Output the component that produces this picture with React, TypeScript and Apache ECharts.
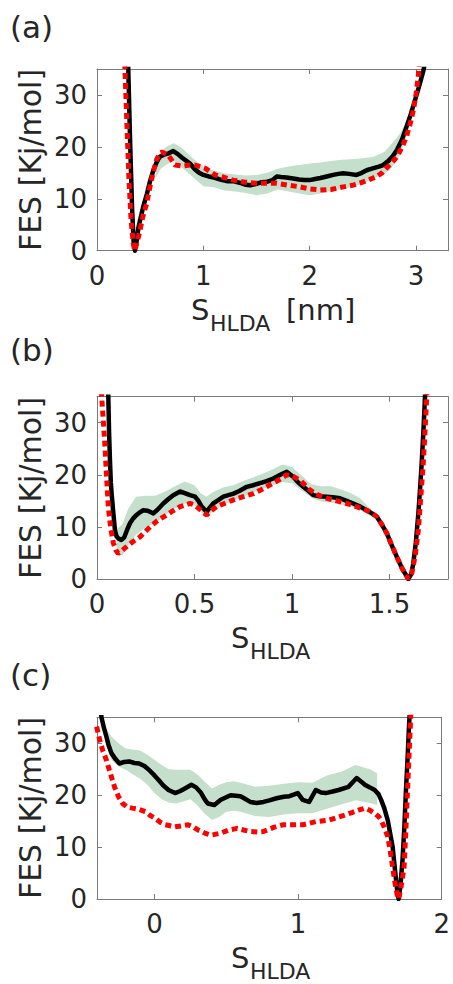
import React, { useEffect, useRef } from 'react';
import * as echarts from 'echarts';

// ---------- Panel (a) ----------
const aBlackX = [0.285, 0.294, 0.31, 0.33, 0.345, 0.357, 0.37, 0.39, 0.435, 0.47, 0.5, 0.53, 0.56, 0.59, 0.63, 0.67, 0.717, 0.76, 0.8, 0.84, 0.874, 0.92, 0.96, 1.0, 1.05, 1.1, 1.16, 1.22, 1.28, 1.34, 1.4, 1.44, 1.5, 1.55, 1.6, 1.65, 1.69, 1.73, 1.78, 1.845, 1.9, 1.95, 2.0, 2.05, 2.1, 2.16, 2.22, 2.27, 2.315, 2.37, 2.44, 2.49, 2.535, 2.6, 2.65, 2.69, 2.74, 2.78, 2.82, 2.87, 2.91, 2.95, 2.99, 3.03, 3.07, 3.09];
const aBlackY = [40, 35, 22, 8, 1.5, 0, 1.5, 4.5, 8.5, 11, 13.5, 15.5, 17, 18.1, 18.5, 18.7, 19.2, 18.6, 17.9, 17.3, 16.8, 15.7, 15, 14.6, 14.3, 14.1, 13.7, 13.4, 13.4, 13.1, 12.7, 12.6, 12.9, 13.2, 13.3, 13.6, 14.3, 14.2, 14.1, 13.9, 13.7, 13.6, 13.6, 13.8, 14.0, 14.3, 14.6, 14.8, 14.9, 14.8, 14.6, 15.0, 15.5, 15.9, 16.2, 16.5, 17.3, 18.2, 19.4, 21.5, 23.9, 26.3, 29, 31.8, 34.8, 37];
const aRedX = [0.255, 0.263, 0.28, 0.3, 0.32, 0.34, 0.355, 0.375, 0.4, 0.43, 0.467, 0.5, 0.53, 0.56, 0.59, 0.61, 0.67, 0.733, 0.81, 0.87, 0.92, 1.015, 1.11, 1.18, 1.28, 1.39, 1.5, 1.6, 1.69, 1.8, 1.91, 2.0, 2.1, 2.2, 2.315, 2.4, 2.47, 2.55, 2.63, 2.68, 2.72, 2.77, 2.82, 2.87, 2.91, 2.945, 2.975, 3.0, 3.02, 3.03];
const aRedY = [40, 35, 25, 14, 6, 1.5, 0, 1.5, 3.5, 6.5, 9.1, 12.5, 15.3, 17.5, 18.8, 19.0, 18.4, 16.5, 16.3, 16.5, 16.5, 15.9, 14.6, 14.2, 13.6, 13.2, 13.0, 13.0, 13.0, 12.6, 12.3, 11.9, 11.7, 11.8, 12.3, 12.6, 13.0, 13.6, 14.3, 15.0, 15.9, 16.9, 18.1, 20.0, 22, 24.5, 27.1, 30.2, 33.5, 36];
const aBandX = [0.55, 0.6, 0.65, 0.72, 0.8, 0.9, 1.0, 1.1, 1.2, 1.3, 1.4, 1.5, 1.6, 1.7, 1.8, 1.9, 2.0, 2.1, 2.2, 2.3, 2.4, 2.5, 2.6, 2.7, 2.75, 2.8, 2.85, 2.9, 2.95];
const aBandUp = [16.5, 19.0, 20.0, 20.7, 19.8, 17.8, 16.2, 15.4, 14.9, 14.7, 14.5, 14.6, 15.0, 15.8, 16.2, 16.5, 16.8, 17.0, 17.3, 17.5, 17.6, 17.8, 18.1, 19.0, 20.1, 21.3, 22.6, 24.5, 27];
const aBandLo = [14.0, 15.8, 16.5, 17.4, 16.0, 14.2, 12.4, 12.2, 11.6, 11.4, 11.1, 10.7, 11.0, 11.8, 11.4, 11.0, 10.7, 11.0, 11.5, 11.9, 12.3, 12.9, 13.9, 14.8, 15.5, 16.8, 18.5, 21.5, 25];

// ---------- Panel (b) ----------
const bBlackX = [0.052, 0.058, 0.062, 0.067, 0.071, 0.075, 0.083, 0.092, 0.1, 0.109, 0.125, 0.14, 0.155, 0.169, 0.185, 0.203, 0.22, 0.237, 0.26, 0.289, 0.31, 0.34, 0.365, 0.391, 0.426, 0.45, 0.477, 0.503, 0.52, 0.537, 0.563, 0.58, 0.596, 0.62, 0.648, 0.7, 0.73, 0.768, 0.8, 0.836, 0.87, 0.904, 0.94, 0.973, 1.007, 1.03, 1.058, 1.085, 1.109, 1.14, 1.178, 1.21, 1.246, 1.28, 1.314, 1.35, 1.383, 1.41, 1.434, 1.46, 1.486, 1.51, 1.537, 1.565, 1.597, 1.612, 1.622, 1.635, 1.648, 1.657, 1.665, 1.674, 1.682, 1.687];
const bBlackY = [40, 35, 28, 22.2, 18.5, 16.4, 13, 9.4, 8.2, 7.8, 7.5, 8.0, 9.5, 10.7, 11.6, 12.3, 12.8, 13.2, 13.1, 12.6, 13.3, 14.5, 15.3, 16.1, 16.8, 16.5, 16.1, 15.8, 15.0, 13.9, 12.9, 13.8, 14.5, 15.1, 15.8, 16.4, 16.9, 17.7, 18.0, 18.4, 18.8, 19.3, 20.0, 20.6, 19.6, 18.6, 17.7, 16.9, 16.1, 15.9, 15.8, 15.7, 15.5, 15.0, 14.5, 13.9, 13.2, 12.6, 12.0, 10.5, 8.8, 6.6, 4.3, 2.0, 0, 1.0, 3.0, 7, 12.6, 17.5, 22.2, 28.5, 35, 40];
const bRedX = [0.02, 0.024, 0.033, 0.041, 0.05, 0.058, 0.07, 0.084, 0.097, 0.109, 0.13, 0.152, 0.185, 0.221, 0.245, 0.272, 0.31, 0.357, 0.39, 0.426, 0.477, 0.5, 0.52, 0.545, 0.563, 0.585, 0.614, 0.66, 0.7, 0.75, 0.802, 0.85, 0.904, 0.94, 0.973, 1.0, 1.041, 1.065, 1.092, 1.13, 1.178, 1.23, 1.28, 1.33, 1.383, 1.41, 1.434, 1.46, 1.486, 1.51, 1.537, 1.565, 1.597, 1.615, 1.632, 1.648, 1.66, 1.673, 1.683, 1.691, 1.695];
const bRedY = [40, 35, 30, 25.4, 19, 13.9, 9.8, 6.9, 5.5, 4.9, 5.5, 6.2, 7.2, 8.1, 9.0, 10.0, 11.2, 12.3, 13.1, 13.9, 14.5, 14.2, 13.6, 12.8, 12.3, 13.1, 13.9, 14.6, 15.2, 15.8, 16.4, 17.3, 18.4, 19.2, 20.0, 19.8, 19.0, 18.1, 17.1, 16.2, 15.5, 15.0, 14.5, 13.9, 13.2, 12.6, 12.0, 10.5, 8.8, 6.6, 4.3, 2.0, 0, 1.2, 4.5, 9.4, 15.5, 22.2, 29, 35, 40];
const bBandX = [0.1, 0.13, 0.16, 0.2, 0.25, 0.3, 0.35, 0.4, 0.45, 0.5, 0.53, 0.56, 0.6, 0.65, 0.7, 0.75, 0.8, 0.85, 0.9, 0.95, 1.0, 1.05, 1.1, 1.15, 1.2, 1.25, 1.3, 1.35, 1.4, 1.43];
const bBandUp = [9.5, 10.5, 13.5, 15.8, 16.0, 16.0, 16.8, 17.8, 18.7, 18.0, 16.5, 15.8, 16.8, 17.6, 18.0, 18.8, 19.5, 20.2, 21.0, 22.0, 21.5, 19.8, 18.2, 17.8, 17.8, 17.2, 16.5, 15.5, 13.5, 12.0];
const bBandLo = [5.0, 4.5, 6.5, 8.5, 10.0, 10.7, 12.3, 13.6, 14.5, 14.2, 13.0, 11.8, 13.2, 14.3, 15.0, 15.8, 16.6, 17.3, 18.0, 18.6, 18.4, 17.0, 15.6, 14.9, 14.7, 14.3, 13.9, 13.2, 12.2, 11.8];

// ---------- Panel (c) ----------
const cBlackX = [-0.38, -0.369, -0.352, -0.335, -0.318, -0.3, -0.27, -0.244, -0.21, -0.176, -0.14, -0.107, -0.07, -0.039, 0.0, 0.029, 0.06, 0.098, 0.143, 0.18, 0.212, 0.257, 0.29, 0.325, 0.35, 0.371, 0.417, 0.462, 0.53, 0.599, 0.63, 0.667, 0.71, 0.759, 0.8, 0.85, 0.9, 0.94, 0.998, 1.032, 1.077, 1.123, 1.16, 1.191, 1.24, 1.282, 1.351, 1.38, 1.408, 1.44, 1.465, 1.5, 1.533, 1.56, 1.578, 1.6, 1.624, 1.64, 1.658, 1.675, 1.692, 1.7, 1.712, 1.727, 1.74, 1.75, 1.762, 1.772, 1.78, 1.79];
const cBlackY = [40, 35, 33, 31.3, 29.5, 28.1, 26.9, 26.1, 26.4, 26.5, 26.2, 26.1, 25.6, 24.9, 23.8, 22.9, 21.9, 21.0, 20.4, 20.8, 21.3, 22.0, 21.5, 20.4, 19.2, 18.4, 18.1, 19.1, 20.0, 19.8, 19.3, 18.7, 18.5, 18.7, 19.0, 19.4, 19.7, 19.8, 20.4, 19.1, 18.7, 21.0, 20.5, 20.4, 20.7, 21.0, 21.6, 22.5, 23.3, 22.6, 22.0, 21.5, 21.0, 20.2, 19.1, 17.5, 15.2, 12.8, 10.1, 5.5, 1.1, 0, 2.5, 7.5, 14, 20.4, 27, 33.2, 37, 42];
const cRedX = [-0.403, -0.381, -0.36, -0.335, -0.305, -0.278, -0.25, -0.221, -0.19, -0.153, -0.11, -0.062, -0.03, 0.007, 0.04, 0.075, 0.143, 0.19, 0.234, 0.27, 0.303, 0.35, 0.394, 0.462, 0.52, 0.576, 0.62, 0.667, 0.72, 0.759, 0.83, 0.895, 0.96, 1.032, 1.08, 1.123, 1.214, 1.27, 1.328, 1.38, 1.419, 1.465, 1.5, 1.533, 1.56, 1.578, 1.6, 1.624, 1.64, 1.658, 1.675, 1.692, 1.7, 1.715, 1.738, 1.75, 1.761, 1.772, 1.784, 1.79];
const cRedY = [33.2, 30.6, 28.6, 26.8, 24.0, 21.6, 19.7, 18.4, 17.7, 17.5, 17.3, 16.8, 16.1, 15.5, 14.8, 14.3, 13.9, 14.1, 14.3, 13.9, 13.3, 12.7, 12.3, 12.7, 13.3, 13.6, 13.3, 13.0, 12.9, 13.0, 13.8, 14.3, 14.3, 14.3, 14.6, 14.9, 15.2, 15.7, 16.2, 16.7, 17.1, 17.5, 17.1, 16.5, 15.9, 15.2, 13.8, 12.0, 9.5, 6.2, 3.0, 0.5, 0, 2.0, 6.2, 13, 20.4, 27.5, 35, 40];
const cBandX = [-0.34, -0.3, -0.25, -0.2, -0.15, -0.1, -0.05, 0.0, 0.05, 0.1, 0.15, 0.2, 0.25, 0.3, 0.35, 0.4, 0.45, 0.5, 0.55, 0.6, 0.7, 0.8, 0.9, 1.0, 1.1, 1.2, 1.3, 1.4, 1.5, 1.55];
const cBandUp = [33, 31.3, 30.0, 29.0, 28.8, 28.6, 27.8, 26.8, 25.8, 25.0, 24.9, 24.9, 24.9, 24.0, 22.6, 21.3, 22.0, 22.5, 22.7, 22.4, 21.6, 21.8, 22.2, 22.5, 22.4, 23.8, 24.5, 25.8, 25.0, 24.2];
const cBandLo = [30, 26.8, 25.5, 24.9, 24.0, 23.2, 22.0, 20.4, 19.2, 18.6, 18.4, 18.8, 19.2, 18.0, 16.4, 15.2, 15.8, 16.8, 17.0, 16.8, 16.0, 15.8, 16.3, 16.5, 16.5, 17.4, 18.2, 19.0, 18.5, 18.1];

// ---------- Ticks ----------
const aXTicks = [0, 1, 2, 3];
const bXTicks = [0, 0.5, 1, 1.5];
const cXTicks = [0, 1, 2];
const yTicks = [0, 10, 20, 30];

const FONT = '"DejaVu Sans", sans-serif';
const TEXT = '#262626';
const AXIS = '#7a7a7a';
const BAND = '#c4dfcb';
const TICK_FS = 26;
const LABEL_FS = 30;

const zip = (xs: number[], ys: number[]) => xs.map((x, i) => [x, ys[i]]);

const panels = [
  { grid: { left: 97, top: 69, width: 351, height: 181.7 }, xMin: 0, xMax: 3.3, xTicks: aXTicks,
    bx: aBlackX, by: aBlackY, rx: aRedX, ry: aRedY, gx: aBandX, gu: aBandUp, gl: aBandLo },
  { grid: { left: 97, top: 396.7, width: 351, height: 182.3 }, xMin: 0, xMax: 1.8, xTicks: bXTicks,
    bx: bBlackX, by: bBlackY, rx: bRedX, ry: bRedY, gx: bBandX, gu: bBandUp, gl: bBandLo },
  { grid: { left: 97, top: 717.3, width: 351, height: 181.7 }, xMin: -0.4, xMax: 2, xTicks: cXTicks,
    bx: cBlackX, by: cBlackY, rx: cRedX, ry: cRedY, gx: cBandX, gu: cBandUp, gl: cBandLo },
];

export default function App() {
  const ref = useRef<HTMLDivElement>(null);
  useEffect(() => {
    const chart = echarts.init(ref.current!, null, { renderer: 'svg' });
    const grids: any[] = [];
    const xAxes: any[] = [];
    const yAxes: any[] = [];
    const series: any[] = [];
    const axisLine = { show: true, onZero: false, lineStyle: { color: AXIS, width: 1 } };
    panels.forEach((p, i) => {
      grids.push({ ...p.grid, containLabel: false });
      const xBase = {
        type: 'value', gridIndex: i, min: p.xMin, max: p.xMax, splitLine: { show: false },
        axisLine,
        axisTick: { show: true, inside: true, length: 5, customValues: p.xTicks, lineStyle: { color: AXIS } },
      };
      xAxes.push({ ...xBase, position: 'bottom',
        axisLabel: { show: true, customValues: p.xTicks, margin: 12, color: TEXT, fontSize: TICK_FS, fontFamily: FONT } });
      xAxes.push({ ...xBase, position: 'top', axisLabel: { show: false } });
      const yBase = {
        type: 'value', gridIndex: i, min: 0, max: 35, splitLine: { show: false },
        axisLine,
        axisTick: { show: true, inside: true, length: 5, customValues: yTicks, lineStyle: { color: AXIS } },
      };
      yAxes.push({ ...yBase, position: 'left',
        axisLabel: { show: true, customValues: yTicks, margin: 10, color: TEXT, fontSize: TICK_FS, fontFamily: FONT } });
      yAxes.push({ ...yBase, position: 'right', axisLabel: { show: false } });

      series.push({
        type: 'custom', xAxisIndex: 2 * i, yAxisIndex: 2 * i, silent: true, z: 1,
        data: [[p.gx[0], p.gu[0]]],
        renderItem: (_params: any, api: any) => {
          const pts: number[][] = [];
          for (let k = 0; k < p.gx.length; k++) pts.push(api.coord([p.gx[k], p.gu[k]]));
          for (let k = p.gx.length - 1; k >= 0; k--) pts.push(api.coord([p.gx[k], p.gl[k]]));
          return { type: 'polygon', shape: { points: pts }, style: { fill: BAND } };
        },
      });
      series.push({
        type: 'line', xAxisIndex: 2 * i, yAxisIndex: 2 * i, z: 2, showSymbol: false, symbol: 'none',
        data: zip(p.bx, p.by), clip: true,
        lineStyle: { color: '#000000', width: 4.5, join: 'round' },
      });
      series.push({
        type: 'line', xAxisIndex: 2 * i, yAxisIndex: 2 * i, z: 3, showSymbol: false, symbol: 'none',
        data: zip(p.rx, p.ry), clip: true,
        lineStyle: { color: '#ff0000', width: 5, type: [6, 4], cap: 'butt' },
      });
    });

    const t = (text: string, x: number, y: number, size: number) => ({
      type: 'text', x, y,
      style: { text, fill: TEXT, font: `${size}px ${FONT}`, align: 'left', verticalAlign: 'middle' },
    });
    const yName = (y: number) => ({
      type: 'text', x: 30, y, rotation: Math.PI / 2,
      style: { text: 'FES [Kj/mol]', fill: TEXT, font: `${LABEL_FS}px ${FONT}`, align: 'center', verticalAlign: 'middle' },
    });
    const graphic: any[] = [
      t('(a)', 10, 27, 31), t('(b)', 10, 350, 31), t('(c)', 10, 675, 31),
      yName(160), yName(488), yName(808),
      t('S', 191, 310, 29), t('HLDA', 210, 323, 22), t('[nm]', 286, 310, 29),
      t('S', 231, 638, 29), t('HLDA', 250, 651, 22),
      t('S', 231, 958, 29), t('HLDA', 250, 971, 22),
    ];

    chart.setOption({
      animation: false,
      backgroundColor: '#ffffff',
      grid: grids,
      xAxis: xAxes,
      yAxis: yAxes,
      series,
      graphic,
    });
    return () => chart.dispose();
  }, []);
  return <div ref={ref} style={{ position: 'absolute', left: 0, top: 0, width: 453, height: 984 }} />;
}
